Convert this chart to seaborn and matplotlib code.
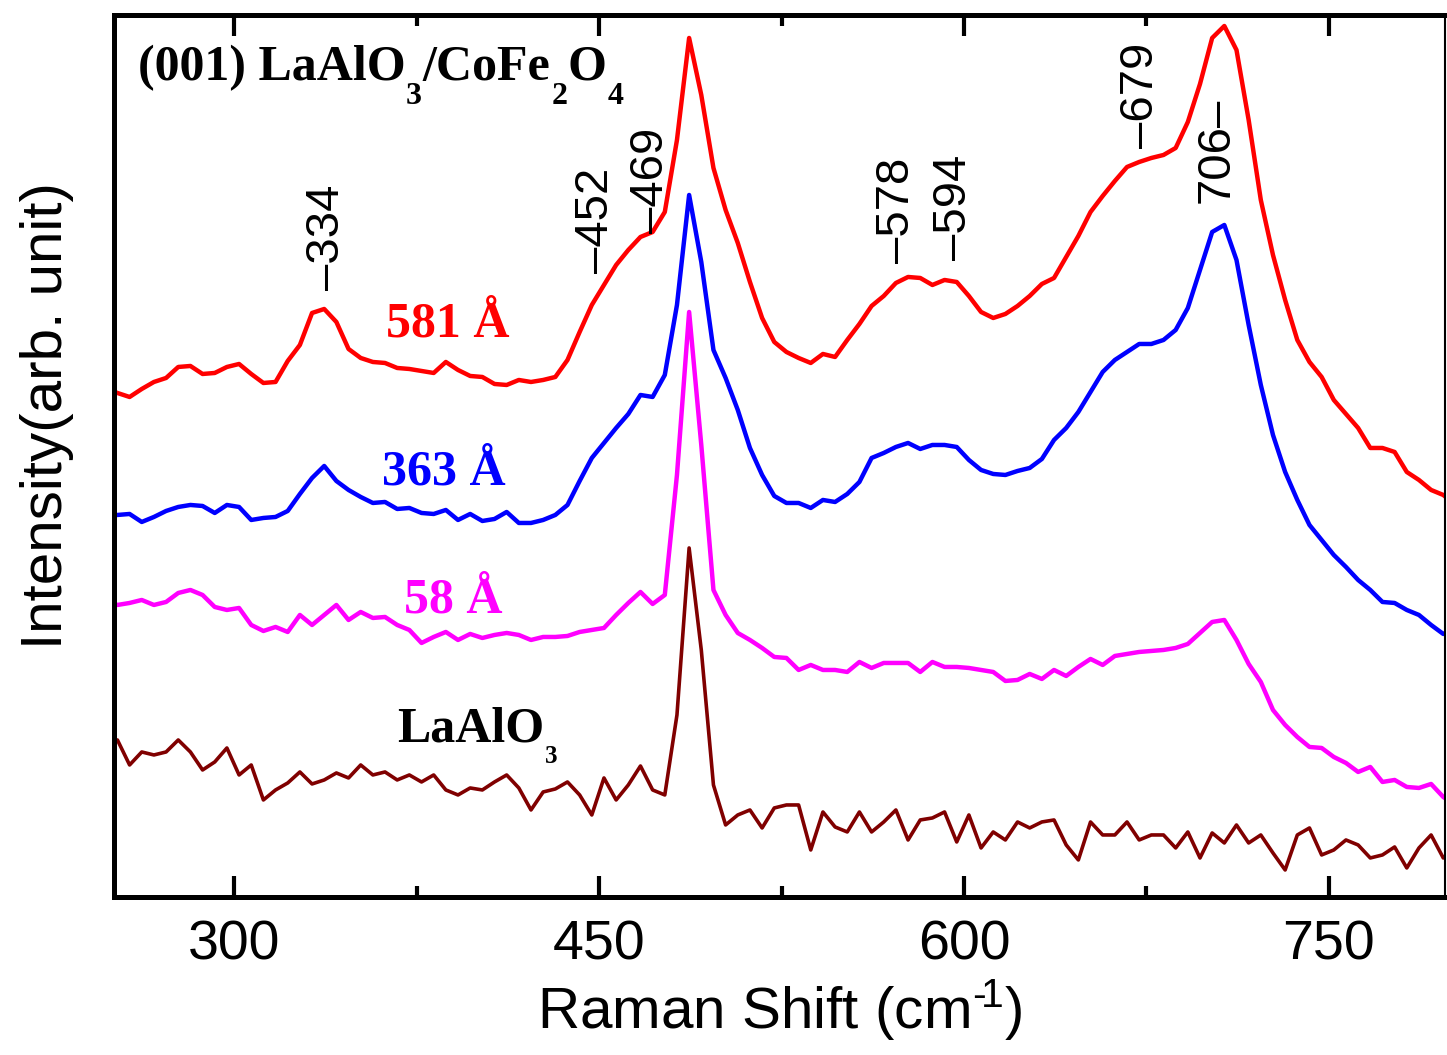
"""
Raman spectra of (001) LaAlO3/CoFe2O4 films of different thickness.
"""
import numpy as np
import pandas as pd
import seaborn as sns
import matplotlib.pyplot as plt
import matplotlib.ticker as plticker

sns.set_style("ticks")
plt.rcParams.update({
    "font.family": ["Liberation Sans", "DejaVu Sans"],
    "mathtext.fontset": "custom",
    "mathtext.rm": "Liberation Sans",
    "mathtext.it": "Liberation Sans:italic",
    "mathtext.bf": "Liberation Sans:bold",
    "text.color": "black",
    "axes.labelcolor": "black",
    "axes.edgecolor": "black",
    "xtick.color": "black",
    "ytick.color": "black",
})

# sampling grid (cm^-1), 247 ... 802 in steps of 5
raman_shift = np.arange(247, 803, 5)

# intensities (arb. unit), already stacked as in the figure
i_581 = [512, 507, 503, 511, 518, 522, 533, 534, 526, 527,
         533, 536, 526, 517, 518, 539, 555, 587, 591, 578,
         551, 542, 538, 537, 532, 531, 529, 527, 538, 530,
         524, 523, 516, 515, 520, 518, 520, 523, 540, 568,
         595, 615, 635, 650, 663, 668, 688, 760, 862, 805,
         732, 690, 657, 618, 582, 558, 548, 542, 537, 546,
         543, 560, 576, 594, 604, 617, 623, 622, 615, 620,
         618, 604, 588, 582, 586, 594, 604, 616, 622, 643,
         664, 688, 704, 719, 733, 738, 742, 745, 752, 778,
         816, 862, 874, 850, 780, 700, 645, 600, 560, 538,
         523, 500, 486, 472, 452, 452, 448, 428, 420, 410,
         405, 395]
i_363 = [385, 385, 386, 378, 383, 389, 393, 395, 394, 387,
         395, 393, 380, 382, 383, 389, 406, 422, 434, 419,
         410, 403, 397, 398, 391, 392, 387, 386, 390, 380,
         386, 379, 381, 388, 377, 377, 380, 385, 395, 419,
         442, 457, 472, 486, 505, 503, 525, 595, 705, 638,
         550, 522, 490, 452, 425, 404, 397, 397, 392, 400,
         398, 406, 418, 442, 447, 453, 457, 451, 455, 455,
         453, 440, 430, 426, 425, 429, 432, 441, 460, 472,
         488, 508, 528, 540, 548, 556, 556, 560, 570, 592,
         630, 668, 675, 640, 575, 515, 465, 428, 400, 375,
         360, 345, 333, 320, 310, 298, 297, 290, 285, 275,
         266, 272]
i_58 = [300, 295, 297, 300, 295, 298, 307, 310, 305, 293,
        290, 292, 275, 269, 273, 268, 285, 275, 285, 295,
        280, 288, 282, 283, 275, 270, 257, 263, 268, 260,
        266, 262, 265, 267, 265, 260, 263, 263, 264, 268,
        270, 272, 285, 297, 308, 296, 305, 425, 588, 455,
        310, 285, 267, 260, 252, 243, 242, 230, 235, 230,
        230, 228, 238, 232, 237, 237, 237, 228, 238, 233,
        233, 232, 230, 228, 219, 220, 226, 221, 230, 224,
        233, 241, 235, 244, 246, 248, 249, 250, 252, 256,
        267, 278, 280, 260, 236, 218, 190, 175, 163, 153,
        152, 143, 137, 128, 133, 118, 120, 113, 112, 116,
        103, 95]
i_lao = [150, 160, 135, 148, 145, 148, 160, 148, 130, 138,
         152, 125, 135, 100, 110, 117, 128, 116, 120, 127,
         122, 135, 125, 128, 120, 125, 118, 125, 110, 105,
         112, 110, 118, 125, 112, 90, 108, 111, 118, 105,
         85, 122, 100, 115, 134, 110, 105, 185, 352, 250,
         115, 75, 85, 90, 72, 92, 95, 95, 50, 88,
         73, 68, 88, 68, 78, 90, 60, 80, 82, 88,
         58, 85, 52, 68, 60, 78, 72, 78, 80, 55,
         40, 78, 65, 65, 78, 60, 65, 65, 52, 68,
         42, 67, 57, 75, 57, 65, 47, 30, 65, 72,
         45, 50, 60, 55, 42, 45, 53, 32, 52, 65,
         42, 53]

samples = ["581", "363", "58", "LaAlO3"]
colors = ["#ff0000", "#0000ff", "#ff00ff", "#800000"]

spectra = pd.DataFrame({
    "shift": np.tile(raman_shift, 4),
    "intensity": i_581 + i_363 + i_58 + i_lao,
    "sample": np.repeat(samples, len(raman_shift)),
})


def chem_text(ax, x, y, pieces, color, size, sub_size, sub_drop):
    """Bold serif formula; pieces are (text, is_subscript) pairs."""
    style = dict(family="Liberation Serif", weight="bold", color=color)
    main = ax.text(x, y, pieces[0][0], fontsize=size, ha="left",
                   va="baseline", **style)
    prev = main
    for txt, is_sub in pieces[1:]:
        if is_sub:
            prev = ax.annotate(txt, xy=(1, 0), xycoords=(prev, main),
                               xytext=(0.5, -sub_drop),
                               textcoords="offset points", fontsize=sub_size,
                               ha="left", va="baseline", **style)
        else:
            prev = ax.annotate(txt, xy=(1, 0), xycoords=(prev, main),
                               xytext=(0.5, 0), textcoords="offset points",
                               fontsize=size, ha="left", va="bottom", **style)
    return main


fig = plt.figure(figsize=(14.47, 10.55), dpi=100)
ax = fig.add_axes([0.0788, 0.1498, 0.9198, 0.8360])

for name, col in zip(samples, colors):
    sub = spectra[spectra["sample"] == name]
    sns.lineplot(data=sub, x="shift", y="intensity", color=col,
                 lw=2.6 if name == "LaAlO3" else 3.2, ax=ax)

ax.set_xlim(250.6, 797.7)
ax.set_ylim(3, 885)
ax.xaxis.set_major_locator(plticker.MultipleLocator(150))
ax.xaxis.set_minor_locator(plticker.MultipleLocator(75))
ax.tick_params(axis="x", which="both", direction="in", top=True,
               width=3, labelsize=40, pad=16)
ax.tick_params(axis="x", which="major", length=15)
ax.tick_params(axis="x", which="minor", length=8)
ax.tick_params(axis="y", left=False, labelleft=False)
for side in ["left", "top", "bottom"]:
    ax.spines[side].set_linewidth(3.6)
ax.spines["right"].set_linewidth(1.5)

ax.set_xlabel("Raman Shift (cm$^{\u2010\\!1}$)", fontsize=42, labelpad=4)
ax.set_ylabel("Intensity(arb. unit)", fontsize=42)
ax.yaxis.set_label_coords(-0.030, 0.546)

# peak markers
peak_marks = [("\u2013334", 338.2, 610), ("\u2013452", 448.8, 627),
              ("\u2013469", 471.4, 667), ("\u2013578", 572.5, 637),
              ("\u2013594", 595.9, 640), ("\u2013679", 672.7, 752),
              ("706\u2013", 704.0, 697)]
for txt, xp, yp in peak_marks:
    ax.text(xp, yp, txt, rotation=90, ha="center", va="bottom", fontsize=34)

chem_text(ax, 260.3, 820,
          [("(001) LaAlO", False), ("3", True), ("/CoFe", False),
           ("2", True), ("O", False), ("4", True)],
          "black", 36, 23, 9.5)
serif_bold = dict(family="Liberation Serif", weight="bold", fontsize=36,
                  ha="left", va="baseline")
ax.text(362.5, 563, "581 Å", color=colors[0], **serif_bold)
ax.text(360.8, 415, "363 Å", color=colors[1], **serif_bold)
ax.text(369.9, 287, "58 Å", color=colors[2], **serif_bold)
chem_text(ax, 367.0, 158, [("LaAlO", False), ("3", True)],
          "black", 36, 18, 7.3)

fig.savefig("out.png", dpi=100)
